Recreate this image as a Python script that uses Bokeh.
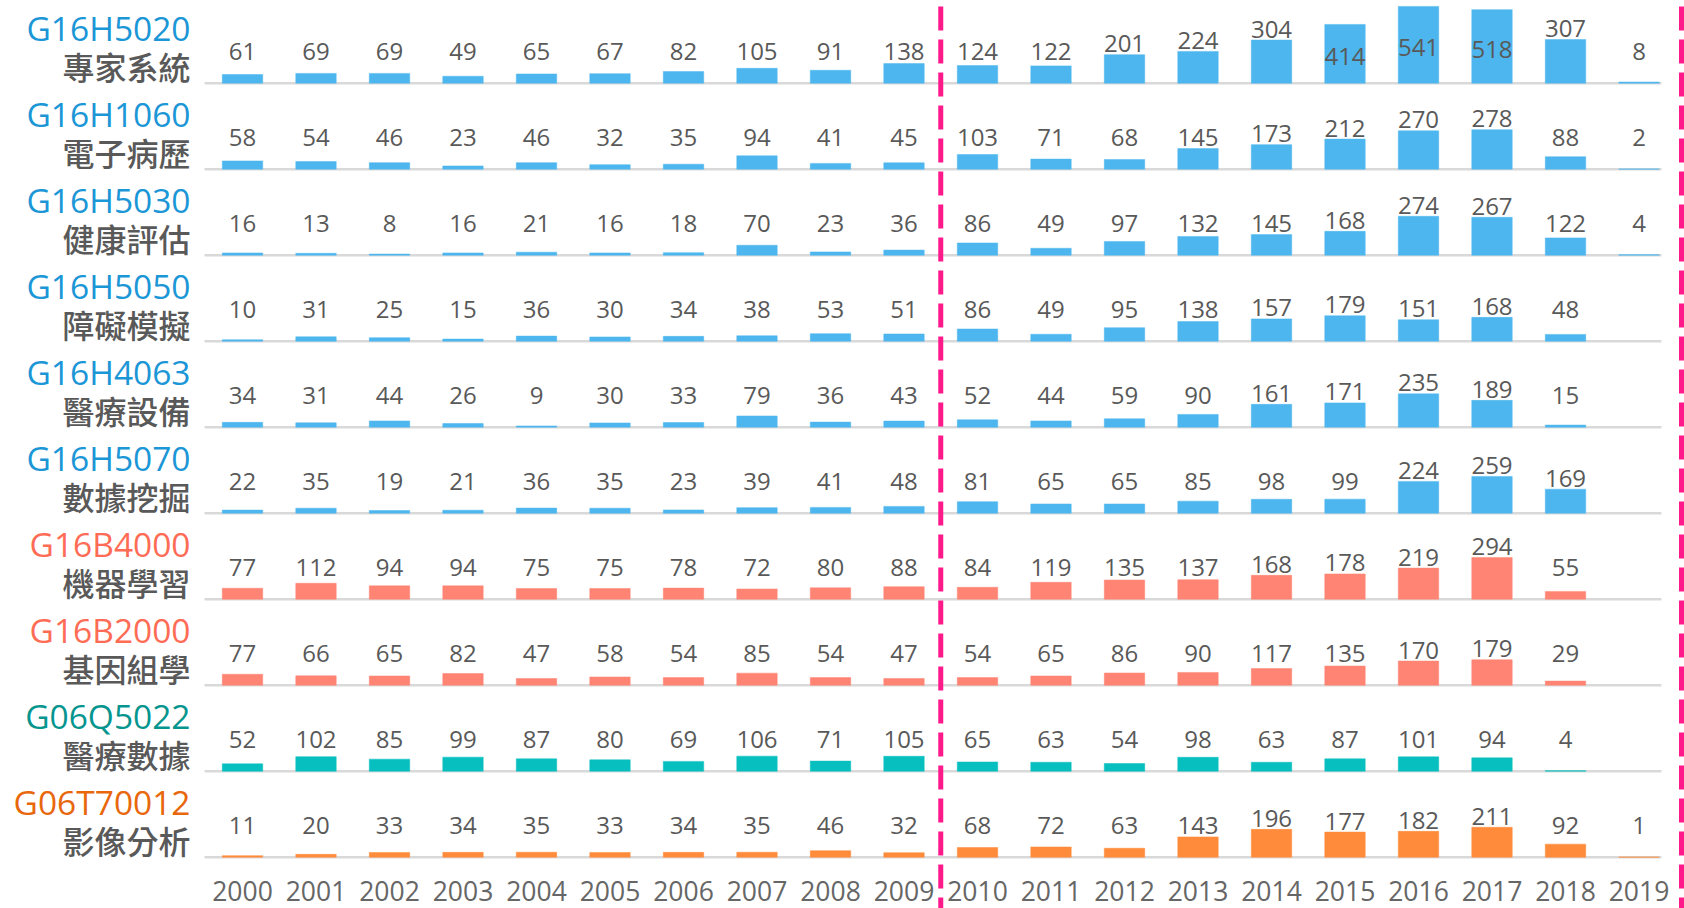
from bokeh.plotting import figure
from bokeh.models import Range1d, ColumnDataSource
from bokeh.core.properties import value
from bokeh.embed import file_html
from bokeh.resources import INLINE

# ---- data -------------------------------------------------------------
years = list(range(2000, 2020))

codes = ["G16H5020", "G16H1060", "G16H5030", "G16H5050", "G16H4063",
         "G16H5070", "G16B4000", "G16B2000", "G06Q5022", "G06T70012"]
names = ["專家系統", "電子病歷", "健康評估", "障礙模擬", "醫療設備",
         "數據挖掘", "機器學習", "基因組學", "醫療數據", "影像分析"]

g16h5020 = [61, 69, 69, 49, 65, 67, 82, 105, 91, 138, 124, 122, 201, 224, 304, 414, 541, 518, 307, 8]
g16h1060 = [58, 54, 46, 23, 46, 32, 35, 94, 41, 45, 103, 71, 68, 145, 173, 212, 270, 278, 88, 2]
g16h5030 = [16, 13, 8, 16, 21, 16, 18, 70, 23, 36, 86, 49, 97, 132, 145, 168, 274, 267, 122, 4]
g16h5050 = [10, 31, 25, 15, 36, 30, 34, 38, 53, 51, 86, 49, 95, 138, 157, 179, 151, 168, 48, None]
g16h4063 = [34, 31, 44, 26, 9, 30, 33, 79, 36, 43, 52, 44, 59, 90, 161, 171, 235, 189, 15, None]
g16h5070 = [22, 35, 19, 21, 36, 35, 23, 39, 41, 48, 81, 65, 65, 85, 98, 99, 224, 259, 169, None]
g16b4000 = [77, 112, 94, 94, 75, 75, 78, 72, 80, 88, 84, 119, 135, 137, 168, 178, 219, 294, 55, None]
g16b2000 = [77, 66, 65, 82, 47, 58, 54, 85, 54, 47, 54, 65, 86, 90, 117, 135, 170, 179, 29, None]
g06q5022 = [52, 102, 85, 99, 87, 80, 69, 106, 71, 105, 65, 63, 54, 98, 63, 87, 101, 94, 4, None]
g06t70012 = [11, 20, 33, 34, 35, 33, 34, 35, 46, 32, 68, 72, 63, 143, 196, 177, 182, 211, 92, 1]

series = [g16h5020, g16h1060, g16h5030, g16h5050, g16h4063,
          g16h5070, g16b4000, g16b2000, g06q5022, g06t70012]

# ---- styling ----------------------------------------------------------
BLUE_BAR, BLUE_TXT = "#4db6ee", "#1b96d6"
SALMON_BAR, SALMON_TXT = "#ff8473", "#ff6c55"
TEAL_BAR, TEAL_TXT = "#08bfbf", "#05958f"
ORANGE_BAR, ORANGE_TXT = "#ff8b3b", "#e8670c"
bar_colors = [BLUE_BAR] * 6 + [SALMON_BAR] * 2 + [TEAL_BAR, ORANGE_BAR]
code_colors = [BLUE_TXT] * 6 + [SALMON_TXT] * 2 + [TEAL_TXT, ORANGE_TXT]

W, H = 1684, 908
PX_PER_UNIT = 0.142          # vertical pixels per count
COL_PX = 73.5                # horizontal pixels per year
FIRST_COL_PX = 242           # centre of the first year column
TOP_BASE_PX = 82.7           # baseline of the first row, from the top
ROW_PX = 86                  # distance between row baselines


def u(px):
    """vertical pixel distance -> count units"""
    return px / PX_PER_UNIT


def xcol(px):
    """horizontal pixel position -> year units"""
    return years[0] + (px - FIRST_COL_PX) / COL_PX


ROW_STEP = u(ROW_PX)

p = figure(width=W, height=H, output_backend="svg", toolbar_location=None,
           x_range=Range1d(xcol(0), xcol(W)),
           y_range=Range1d(-u(H - TOP_BASE_PX), u(TOP_BASE_PX)),
           min_border=0, outline_line_color=None,
           background_fill_color="white", border_fill_color="white")
p.axis.visible = False
p.grid.visible = False

LABEL_FONT = value("Open Sans")
CJK_FONT = value("Noto Sans CJK TC Medium, Noto Sans CJK TC")

for k, vals in enumerate(series):
    base = -k * ROW_STEP

    # row baseline
    p.segment(x0=[xcol(204)], x1=[xcol(1661)], y0=[base], y1=[base],
              line_color="#d9d9d9", line_width=2.5)

    xs = [y for y, v in zip(years, vals) if v is not None]
    vs = [v for v in vals if v is not None]
    tops = [base + v for v in vs]
    # labels sit above the bar; the tallest bars carry theirs inside
    label_y = [base + (v * 0.46 if v > 400 else max(v + u(11), u(32))) for v in vs]
    src = ColumnDataSource(dict(x=xs, top=tops, ly=label_y,
                                txt=[str(v) for v in vs]))

    p.vbar(x="x", top="top", bottom=base, width=0.55, source=src,
           fill_color=bar_colors[k], line_color=bar_colors[k], line_width=0.5)
    p.text(x="x", y="ly", text="txt", source=src, text_align="center",
           text_baseline="middle", text_font=LABEL_FONT,
           text_font_size="24px", text_color="#595959")

    # row titles
    p.text(x=[xcol(190)], y=[base + u(55.5)], text=[codes[k]],
           text_align="right", text_baseline="middle", text_font=LABEL_FONT,
           text_font_size="33.5px", text_color=code_colors[k])
    p.text(x=[xcol(190)], y=[base + u(17)], text=[names[k]],
           text_align="right", text_baseline="middle", text_font=CJK_FONT,
           text_font_size="32px", text_color="#595959")

# year labels along the bottom
p.text(x=years, y=[-u(890 - TOP_BASE_PX)] * len(years),
       text=[str(y) for y in years], text_align="center",
       text_baseline="middle", text_font=LABEL_FONT,
       text_font_size="26.5px", text_color="#666666")

# dashed separators
for xv in (2009.5, xcol(1681)):
    p.segment(x0=[xv], x1=[xv], y0=[u(TOP_BASE_PX - 6)], y1=[-u(H - TOP_BASE_PX)],
              line_color="#ff1a8c", line_width=5, line_dash="24 9")

open("out.html", "w").write(file_html(p, INLINE))
